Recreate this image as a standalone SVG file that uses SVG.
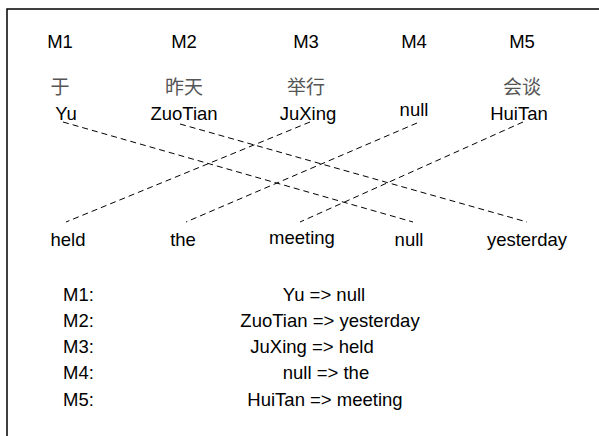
<svg xmlns="http://www.w3.org/2000/svg" width="599" height="436" viewBox="0 0 599 436">
<style>
text{font-family:"Liberation Sans","Noto Sans CJK SC",sans-serif;font-size:18.5px;fill:#000;text-anchor:middle}
.zh{fill:#555;font-size:19px}
.l{text-anchor:start}
.c line{stroke:#000;stroke-width:1;stroke-dasharray:6 4;fill:none}
</style>
<rect x="0" y="0" width="599" height="436" fill="#fff"/>
<rect x="7" y="9" width="610" height="450" fill="none" stroke="#000" stroke-width="1.5"/>
<g id="headers">
<text x="60" y="48">M1</text>
<text x="184" y="48">M2</text>
<text x="306" y="48">M3</text>
<text x="414" y="48">M4</text>
<text x="522" y="48">M5</text>
</g>
<g id="src-yu"><text class="zh" x="60" y="94">于</text><text x="66" y="120">Yu</text></g>
<g id="src-zuotian"><text class="zh" x="184" y="94">昨天</text><text x="184" y="120">ZuoTian</text></g>
<g id="src-juxing"><text class="zh" x="306" y="94">举行</text><text x="308" y="120">JuXing</text></g>
<g id="src-null"><text x="414" y="116">null</text></g>
<g id="src-huitan"><text class="zh" x="522" y="94">会谈</text><text x="519" y="120">HuiTan</text></g>
<g id="tgt-held"><text x="68" y="246">held</text></g>
<g id="tgt-the"><text x="183" y="246">the</text></g>
<g id="tgt-meeting"><text x="302" y="244">meeting</text></g>
<g id="tgt-null"><text x="409" y="246">null</text></g>
<g id="tgt-yesterday"><text x="527" y="246">yesterday</text></g>
<g class="c" id="connectors">
<line x1="63" y1="122" x2="413" y2="222"/>
<line x1="180" y1="124" x2="527" y2="222"/>
<line x1="310" y1="122" x2="66" y2="222"/>
<line x1="417" y1="123" x2="186" y2="222"/>
<line x1="523" y1="122" x2="300" y2="222"/>
</g>
<g id="mapping">
<text class="l" x="63" y="301">M1:</text><text x="324" y="301">Yu =&gt; null</text>
<text class="l" x="63" y="327">M2:</text><text x="330" y="327">ZuoTian =&gt; yesterday</text>
<text class="l" x="63" y="353">M3:</text><text x="312" y="353">JuXing =&gt; held</text>
<text class="l" x="63" y="379">M4:</text><text x="326" y="379">null =&gt; the</text>
<text class="l" x="63" y="406">M5:</text><text x="325" y="406">HuiTan =&gt; meeting</text>
</g>
</svg>
